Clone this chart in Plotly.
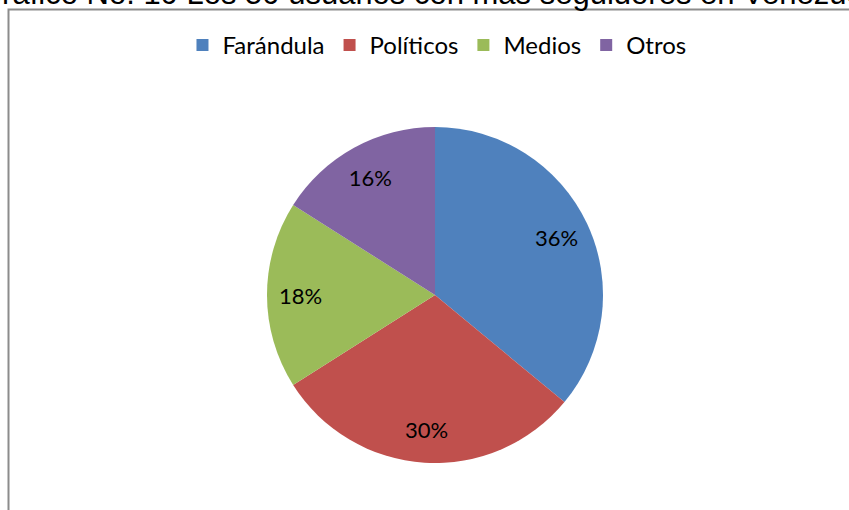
import plotly.graph_objects as go

categories = ["Farándula", "Políticos", "Medios", "Otros"]
values = [18, 15, 9, 8]
colors = ["#4F81BD", "#C0504D", "#9BBB59", "#8064A2"]
title_text = "Gráfico No. 10 Los 50 usuarios con más seguidores en Venezuela"

W, H = 849, 510
CX, CY, R = 435, 295, 168
dom = dict(x=[(CX - R) / W, (CX + R) / W], y=[1 - (CY + R) / H, 1 - (CY - R) / H])

fig = go.Figure()
# visible slices
fig.add_trace(go.Pie(
    labels=categories, values=values, sort=False, direction="clockwise", rotation=0,
    marker=dict(colors=colors, line=dict(width=0)),
    textinfo="none", hoverinfo="label+percent", domain=dom, showlegend=True,
))
# transparent ring carrying the percentage labels further out
fig.add_trace(go.Pie(
    labels=categories, values=values, sort=False, direction="clockwise", rotation=0,
    hole=0.6,
    marker=dict(colors=["rgba(0,0,0,0)"] * len(values), line=dict(width=0)),
    textinfo="percent", texttemplate="%{percent:.0%}",
    textposition="inside", insidetextorientation="horizontal",
    textfont=dict(family="Lato", size=22, color="#000000"),
    hoverinfo="skip", domain=dom, showlegend=False,
))

fig.update_layout(
    width=W, height=H,
    margin=dict(l=0, r=0, t=0, b=0),
    paper_bgcolor="white",
    plot_bgcolor="white",
    showlegend=True,
    legend=dict(orientation="h", x=0.5147, xanchor="center", y=1 - 45.5 / H, yanchor="middle",
                font=dict(family="Lato", size=24, color="#000000"),
                itemwidth=30, traceorder="normal"),
    shapes=[dict(type="rect", xref="paper", yref="paper",
                 x0=8.5 / W, x1=1.2, y0=-0.2, y1=1 - 9.5 / H,
                 line=dict(color="#8c8c8c", width=2), fillcolor="rgba(0,0,0,0)", layer="below")],
    annotations=[dict(text=title_text, xref="paper", yref="paper",
                      x=-24 / W, xanchor="left", y=1 + 7 / H, yanchor="middle",
                      showarrow=False,
                      font=dict(family="Liberation Sans", size=31, color="#000000"))],
)

fig.write_html("out.html", config={"displayModeBar": False},
               post_script="document.body.style.margin='0';")
